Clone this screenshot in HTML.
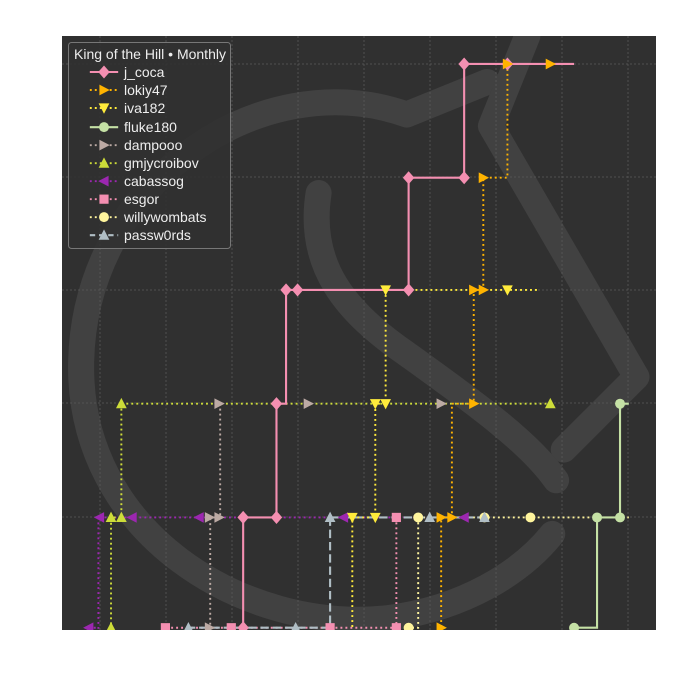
<!DOCTYPE html>
<html><head><meta charset="utf-8"><style>
html,body{margin:0;padding:0;background:#fff;}
svg{display:block;}
text{font-family:"Liberation Sans",sans-serif;}
</style></head><body>
<svg width="700" height="700" viewBox="0 0 700 700" xmlns="http://www.w3.org/2000/svg">
<defs>
<clipPath id="cp"><rect x="62" y="36" width="594" height="594"/></clipPath>
<polygon id="dm" points="0,-17 15,0 0,17 -15,0"/>
<polygon id="tr" points="-12,-14 15,0 -12,14"/>
<polygon id="tl" points="12,-14 -15,0 12,14"/>
<polygon id="td" points="-14,-12 14,-12 0,15"/>
<polygon id="tu" points="-14,12 14,12 0,-15"/>
<circle id="ci" r="13"/>
<rect id="sq" x="-12" y="-12" width="24" height="24"/>
</defs>
<rect x="62" y="36" width="594" height="594" fill="#303030"/>
<g clip-path="url(#cp)">
<g transform="translate(62,36) scale(0.383)">
<g fill="none" stroke="#414141" stroke-width="68" stroke-linecap="round" stroke-linejoin="round">
<path d="M1110 120 L900 205 C520 70 60 380 50 850 C40 1300 480 1560 850 1520 C1050 1495 1200 1400 1280 1300"/>
<path d="M1215 0 L1120 235 L1500 890 L1310 1080"/>
<path d="M670 410 C640 600 740 720 900 830 C1080 960 1220 1060 1290 1160"/>
</g>
</g>
<g stroke="#5a5a5a" stroke-width="0.8" stroke-dasharray="2 2">
<line x1="100" y1="36" x2="100" y2="630"/><line x1="166" y1="36" x2="166" y2="630"/><line x1="232" y1="36" x2="232" y2="630"/><line x1="298" y1="36" x2="298" y2="630"/><line x1="364" y1="36" x2="364" y2="630"/><line x1="430" y1="36" x2="430" y2="630"/><line x1="496" y1="36" x2="496" y2="630"/><line x1="562" y1="36" x2="562" y2="630"/><line x1="628" y1="36" x2="628" y2="630"/>
<line x1="62" y1="64" x2="656" y2="64"/><line x1="62" y1="177" x2="656" y2="177"/><line x1="62" y1="290" x2="656" y2="290"/><line x1="62" y1="403" x2="656" y2="403"/><line x1="62" y1="517" x2="656" y2="517"/>
</g>
<g transform="translate(62,36) scale(0.383)">
<g fill="none" stroke-linecap="butt">
<path d="M98 1257 L1050 1257 M95 1257 L95 1560 M70 1545 L95 1545" stroke="#9c27b0" stroke-width="5" stroke-dasharray="5 8"/>
<path d="M155 960 L1275 960 M155 960 L155 1257 L128 1257 L128 1560" stroke="#cddc39" stroke-width="5" stroke-dasharray="5 8"/>
<path d="M413 960 L413 1257 L387 1257 L387 1560" stroke="#bcaaa4" stroke-width="5" stroke-dasharray="5 8"/>
<path d="M873 1257 L873 1545 L270 1545" stroke="#f48fb1" stroke-width="5" stroke-dasharray="5 8"/>
<path d="M930 1257 L1480 1257 M930 1257 L930 1545 L905 1545" stroke="#fff59d" stroke-width="5" stroke-dasharray="5 8"/>
<path d="M700 1257 L1103 1257 M700 1257 L700 1545 L330 1545" stroke="#b0bec5" stroke-width="5.5" stroke-dasharray="22 10"/>
<path d="M845 663 L1245 663 M845 663 L845 960 L818 960 L818 1257 L758 1257 L758 1560" stroke="#ffeb3b" stroke-width="5" stroke-dasharray="5 8"/>
<path d="M1163 73 L1275 73 M1163 73 L1163 370 L1100 370 L1100 663 L1075 663 L1075 960 L1018 960 L1018 1257 L990 1257 L990 1560" stroke="#ffb300" stroke-width="5" stroke-dasharray="5 8"/>
<path d="M1480 960 L1457 960 L1457 1257 L1397 1257 L1397 1545 L1337 1545" stroke="#c5e1a5" stroke-width="5.5"/>
<path d="M1337 73 L1050 73 L1050 370 L905 370 L905 663 L585 663 L585 960 L560 960 L560 1257 L473 1257 L473 1560" stroke="#f48fb1" stroke-width="5.5"/>
</g>
<g fill="#9c27b0"><use href="#tl" x="1050" y="1257"/><use href="#tl" x="735" y="1257"/><use href="#tl" x="358" y="1257"/><use href="#tl" x="183" y="1257"/><use href="#tl" x="98" y="1257"/><use href="#tl" x="70" y="1545"/></g>
<g fill="#cddc39"><use href="#tu" x="1275" y="960"/><use href="#tu" x="155" y="960"/><use href="#tu" x="155" y="1257"/><use href="#tu" x="128" y="1257"/><use href="#tu" x="128" y="1545"/></g>
<g fill="#bcaaa4"><use href="#tr" x="990" y="960"/><use href="#tr" x="643" y="960"/><use href="#tr" x="410" y="960"/><use href="#tr" x="410" y="1257"/><use href="#tr" x="385" y="1257"/><use href="#tr" x="385" y="1545"/></g>
<g fill="#f48fb1"><use href="#sq" x="873" y="1257"/><use href="#sq" x="873" y="1545"/><use href="#sq" x="700" y="1545"/><use href="#sq" x="442" y="1545"/><use href="#sq" x="270" y="1545"/></g>
<g fill="#fff59d"><use href="#ci" x="930" y="1257"/><use href="#ci" x="1103" y="1257"/><use href="#ci" x="1223" y="1257"/><use href="#ci" x="905" y="1545"/></g>
<g fill="#b0bec5"><use href="#tu" x="1103" y="1257"/><use href="#tu" x="960" y="1257"/><use href="#tu" x="700" y="1257"/><use href="#tu" x="330" y="1545"/><use href="#tu" x="610" y="1545"/></g>
<g fill="#ffeb3b"><use href="#td" x="1163" y="663"/><use href="#td" x="845" y="663"/><use href="#td" x="845" y="960"/><use href="#td" x="818" y="960"/><use href="#td" x="818" y="1257"/><use href="#td" x="758" y="1257"/></g>
<g fill="#c5e1a5"><use href="#ci" x="1457" y="960"/><use href="#ci" x="1457" y="1257"/><use href="#ci" x="1397" y="1257"/><use href="#ci" x="1337" y="1545"/></g>
<g fill="#f48fb1"><use href="#dm" x="1050" y="73"/><use href="#dm" x="1163" y="73"/><use href="#dm" x="1050" y="370"/><use href="#dm" x="905" y="370"/><use href="#dm" x="905" y="663"/><use href="#dm" x="615" y="663"/><use href="#dm" x="585" y="663"/><use href="#dm" x="560" y="960"/><use href="#dm" x="560" y="1257"/><use href="#dm" x="473" y="1257"/><use href="#dm" x="473" y="1545"/></g>
<g fill="#ffb300"><use href="#tr" x="1163" y="73"/><use href="#tr" x="1275" y="73"/><use href="#tr" x="1100" y="370"/><use href="#tr" x="1100" y="663"/><use href="#tr" x="1075" y="663"/><use href="#tr" x="1075" y="960"/><use href="#tr" x="1018" y="1257"/><use href="#tr" x="990" y="1257"/><use href="#tr" x="990" y="1545"/></g>
</g>
</g>
<rect x="68.5" y="42.5" width="162" height="206" rx="3" fill="#303030" fill-opacity="0.85" stroke="#777" stroke-width="1"/>
<text x="74" y="59" font-size="14" fill="#eeeeee">King of the Hill • Monthly</text>
<g font-size="14" fill="#eeeeee">
<text x="124" y="77">j_coca</text><text x="124" y="95">lokiy47</text><text x="124" y="113">iva182</text><text x="124" y="132">fluke180</text><text x="124" y="150">dampooo</text><text x="124" y="168">gmjycroibov</text><text x="124" y="186">cabassog</text><text x="124" y="204">esgor</text><text x="124" y="222">willywombats</text><text x="124" y="240">passw0rds</text>
</g>
<g transform="translate(104,0) scale(0.383)">
<g fill="none">
<line x1="-37" y1="188" x2="37" y2="188" stroke="#f48fb1" stroke-width="5.5"/>
<line x1="-37" y1="235" x2="37" y2="235" stroke="#ffb300" stroke-width="5" stroke-dasharray="5 8"/>
<line x1="-37" y1="282" x2="37" y2="282" stroke="#ffeb3b" stroke-width="5" stroke-dasharray="5 8"/>
<line x1="-37" y1="332" x2="37" y2="332" stroke="#c5e1a5" stroke-width="5.5"/>
<line x1="-37" y1="379" x2="37" y2="379" stroke="#bcaaa4" stroke-width="5" stroke-dasharray="5 8"/>
<line x1="-37" y1="426" x2="37" y2="426" stroke="#cddc39" stroke-width="5" stroke-dasharray="5 8"/>
<line x1="-37" y1="473" x2="37" y2="473" stroke="#9c27b0" stroke-width="5" stroke-dasharray="5 8"/>
<line x1="-37" y1="520" x2="37" y2="520" stroke="#f48fb1" stroke-width="5" stroke-dasharray="5 8"/>
<line x1="-37" y1="567" x2="37" y2="567" stroke="#fff59d" stroke-width="5" stroke-dasharray="5 8"/>
<line x1="-37" y1="614" x2="37" y2="614" stroke="#b0bec5" stroke-width="5.5" stroke-dasharray="14 10"/>
</g>
<use href="#dm" y="188" fill="#f48fb1"/><use href="#tr" y="235" fill="#ffb300"/><use href="#td" y="282" fill="#ffeb3b"/><use href="#ci" y="332" fill="#c5e1a5"/><use href="#tr" y="379" fill="#bcaaa4"/><use href="#tu" y="426" fill="#cddc39"/><use href="#tl" y="473" fill="#9c27b0"/><use href="#sq" y="520" fill="#f48fb1"/><use href="#ci" y="567" fill="#fff59d"/><use href="#tu" y="614" fill="#b0bec5"/>
</g>
</svg>
</body></html>
